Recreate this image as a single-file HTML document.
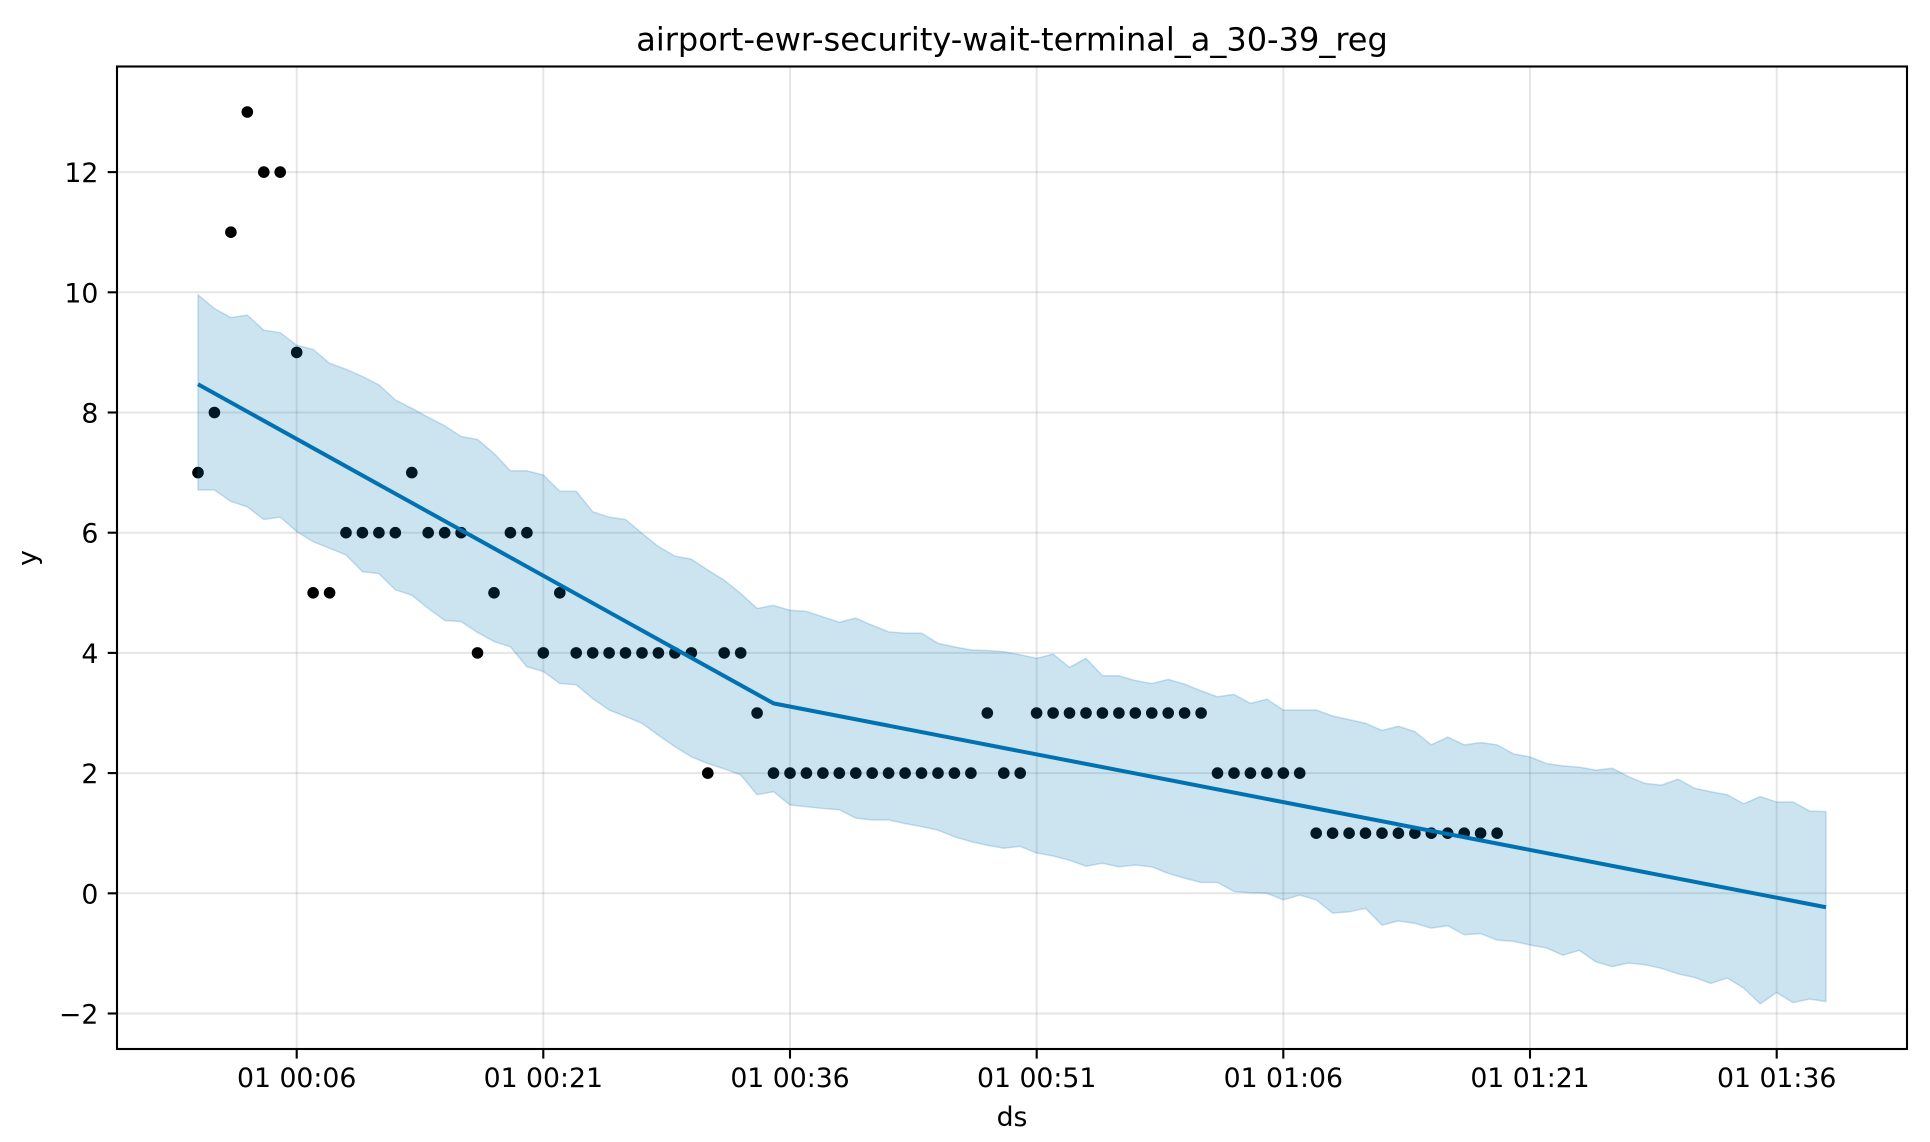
<!DOCTYPE html>
<html>
<head>
<meta charset="utf-8">
<style>
  html, body { margin: 0; padding: 0; background: #ffffff; }
  svg { display: block; }
  text { font-family: "DejaVu Sans", "Liberation Sans", sans-serif; fill: #000000; }
</style>
</head>
<body>
<svg width="1930" height="1142" viewBox="0 0 1930 1142" xmlns="http://www.w3.org/2000/svg">
  <rect x="0" y="0" width="1930" height="1142" fill="#ffffff"/>
  <g stroke="#808080" stroke-opacity="0.2" stroke-width="2">
    <line x1="296.7" y1="66.5" x2="296.7" y2="1049"/>
    <line x1="543.3" y1="66.5" x2="543.3" y2="1049"/>
    <line x1="790" y1="66.5" x2="790" y2="1049"/>
    <line x1="1036.7" y1="66.5" x2="1036.7" y2="1049"/>
    <line x1="1283.3" y1="66.5" x2="1283.3" y2="1049"/>
    <line x1="1530" y1="66.5" x2="1530" y2="1049"/>
    <line x1="1776.7" y1="66.5" x2="1776.7" y2="1049"/>
    <line x1="117" y1="1013.5" x2="1907" y2="1013.5"/>
    <line x1="117" y1="893.3" x2="1907" y2="893.3"/>
    <line x1="117" y1="773.1" x2="1907" y2="773.1"/>
    <line x1="117" y1="652.9" x2="1907" y2="652.9"/>
    <line x1="117" y1="532.7" x2="1907" y2="532.7"/>
    <line x1="117" y1="412.5" x2="1907" y2="412.5"/>
    <line x1="117" y1="292.3" x2="1907" y2="292.3"/>
    <line x1="117" y1="172.1" x2="1907" y2="172.1"/>
  </g>
  <g fill="#000000">
    <circle cx="198.0" cy="472.6" r="5.8"/>
    <circle cx="214.4" cy="412.5" r="5.8"/>
    <circle cx="230.9" cy="232.2" r="5.8"/>
    <circle cx="247.3" cy="112.0" r="5.8"/>
    <circle cx="263.8" cy="172.1" r="5.8"/>
    <circle cx="280.2" cy="172.1" r="5.8"/>
    <circle cx="296.7" cy="352.4" r="5.8"/>
    <circle cx="313.1" cy="592.8" r="5.8"/>
    <circle cx="329.6" cy="592.8" r="5.8"/>
    <circle cx="346.0" cy="532.7" r="5.8"/>
    <circle cx="362.4" cy="532.7" r="5.8"/>
    <circle cx="378.9" cy="532.7" r="5.8"/>
    <circle cx="395.3" cy="532.7" r="5.8"/>
    <circle cx="411.8" cy="472.6" r="5.8"/>
    <circle cx="428.2" cy="532.7" r="5.8"/>
    <circle cx="444.7" cy="532.7" r="5.8"/>
    <circle cx="461.1" cy="532.7" r="5.8"/>
    <circle cx="477.5" cy="652.9" r="5.8"/>
    <circle cx="494.0" cy="592.8" r="5.8"/>
    <circle cx="510.4" cy="532.7" r="5.8"/>
    <circle cx="526.9" cy="532.7" r="5.8"/>
    <circle cx="543.3" cy="652.9" r="5.8"/>
    <circle cx="559.8" cy="592.8" r="5.8"/>
    <circle cx="576.2" cy="652.9" r="5.8"/>
    <circle cx="592.7" cy="652.9" r="5.8"/>
    <circle cx="609.1" cy="652.9" r="5.8"/>
    <circle cx="625.5" cy="652.9" r="5.8"/>
    <circle cx="642.0" cy="652.9" r="5.8"/>
    <circle cx="658.4" cy="652.9" r="5.8"/>
    <circle cx="674.9" cy="652.9" r="5.8"/>
    <circle cx="691.3" cy="652.9" r="5.8"/>
    <circle cx="707.8" cy="773.1" r="5.8"/>
    <circle cx="724.2" cy="652.9" r="5.8"/>
    <circle cx="740.7" cy="652.9" r="5.8"/>
    <circle cx="757.1" cy="713.0" r="5.8"/>
    <circle cx="773.5" cy="773.1" r="5.8"/>
    <circle cx="790.0" cy="773.1" r="5.8"/>
    <circle cx="806.4" cy="773.1" r="5.8"/>
    <circle cx="822.9" cy="773.1" r="5.8"/>
    <circle cx="839.3" cy="773.1" r="5.8"/>
    <circle cx="855.8" cy="773.1" r="5.8"/>
    <circle cx="872.2" cy="773.1" r="5.8"/>
    <circle cx="888.6" cy="773.1" r="5.8"/>
    <circle cx="905.1" cy="773.1" r="5.8"/>
    <circle cx="921.5" cy="773.1" r="5.8"/>
    <circle cx="938.0" cy="773.1" r="5.8"/>
    <circle cx="954.4" cy="773.1" r="5.8"/>
    <circle cx="970.9" cy="773.1" r="5.8"/>
    <circle cx="987.3" cy="713.0" r="5.8"/>
    <circle cx="1003.8" cy="773.1" r="5.8"/>
    <circle cx="1020.2" cy="773.1" r="5.8"/>
    <circle cx="1036.6" cy="713.0" r="5.8"/>
    <circle cx="1053.1" cy="713.0" r="5.8"/>
    <circle cx="1069.5" cy="713.0" r="5.8"/>
    <circle cx="1086.0" cy="713.0" r="5.8"/>
    <circle cx="1102.4" cy="713.0" r="5.8"/>
    <circle cx="1118.9" cy="713.0" r="5.8"/>
    <circle cx="1135.3" cy="713.0" r="5.8"/>
    <circle cx="1151.8" cy="713.0" r="5.8"/>
    <circle cx="1168.2" cy="713.0" r="5.8"/>
    <circle cx="1184.6" cy="713.0" r="5.8"/>
    <circle cx="1201.1" cy="713.0" r="5.8"/>
    <circle cx="1217.5" cy="773.1" r="5.8"/>
    <circle cx="1234.0" cy="773.1" r="5.8"/>
    <circle cx="1250.4" cy="773.1" r="5.8"/>
    <circle cx="1266.9" cy="773.1" r="5.8"/>
    <circle cx="1283.3" cy="773.1" r="5.8"/>
    <circle cx="1299.7" cy="773.1" r="5.8"/>
    <circle cx="1316.2" cy="833.2" r="5.8"/>
    <circle cx="1332.6" cy="833.2" r="5.8"/>
    <circle cx="1349.1" cy="833.2" r="5.8"/>
    <circle cx="1365.5" cy="833.2" r="5.8"/>
    <circle cx="1382.0" cy="833.2" r="5.8"/>
    <circle cx="1398.4" cy="833.2" r="5.8"/>
    <circle cx="1414.9" cy="833.2" r="5.8"/>
    <circle cx="1431.3" cy="833.2" r="5.8"/>
    <circle cx="1447.7" cy="833.2" r="5.8"/>
    <circle cx="1464.2" cy="833.2" r="5.8"/>
    <circle cx="1480.6" cy="833.2" r="5.8"/>
    <circle cx="1497.1" cy="833.2" r="5.8"/>
  </g>
  <g transform="translate(198 893.3) scale(16.444 -60.1)">
    <path d="M0 8.47 L35 3.16 L99 -0.232" fill="none" stroke="#0072B2" stroke-width="4" vector-effect="non-scaling-stroke" stroke-linejoin="round"/>
    <path fill="#0072B2" fill-opacity="0.2" stroke="#0072B2" stroke-opacity="0.2" stroke-width="1.5" vector-effect="non-scaling-stroke" stroke-linejoin="round"
      d="M0 9.96 L1 9.73 L2 9.58 L3 9.62 L4 9.37 L5 9.33 L6 9.12 L7 9.05 L8 8.82 L9 8.72 L10 8.60 L11 8.46 L12 8.21 L13 8.07 L14 7.92 L15 7.78 L16 7.60 L17 7.55 L18 7.32 L19 7.03 L20 7.03 L21 6.96 L22 6.69 L23 6.69 L24 6.35 L25 6.26 L26 6.22 L27 5.99 L28 5.77 L29 5.61 L30 5.56 L31 5.38 L32 5.21 L33 4.99 L34 4.74 L35 4.79 L36 4.71 L37 4.69 L38 4.60 L39 4.51 L40 4.58 L41 4.46 L42 4.35 L43 4.33 L44 4.33 L45 4.16 L46 4.10 L47 4.05 L48 4.04 L49 4.02 L50 3.97 L51 3.91 L52 3.98 L53 3.76 L54 3.91 L55 3.62 L56 3.62 L57 3.54 L58 3.49 L59 3.56 L60 3.48 L61 3.37 L62 3.27 L63 3.31 L64 3.16 L65 3.23 L66 3.05 L67 3.05 L68 3.05 L69 2.95 L70 2.89 L71 2.83 L72 2.71 L73 2.78 L74 2.69 L75 2.47 L76 2.60 L77 2.47 L78 2.51 L79 2.47 L80 2.32 L81 2.27 L82 2.16 L83 2.12 L84 2.10 L85 2.05 L86 2.08 L87 1.94 L88 1.83 L89 1.80 L90 1.90 L91 1.75 L92 1.69 L93 1.64 L94 1.49 L95 1.61 L96 1.52 L97 1.52 L98 1.37 L99 1.36 L99 -1.80 L98 -1.76 L97 -1.82 L96 -1.65 L95 -1.84 L94 -1.58 L93 -1.41 L92 -1.50 L91 -1.40 L90 -1.34 L89 -1.25 L88 -1.19 L87 -1.16 L86 -1.22 L85 -1.14 L84 -0.95 L83 -1.03 L82 -0.91 L81 -0.86 L80 -0.80 L79 -0.78 L78 -0.67 L77 -0.69 L76 -0.54 L75 -0.58 L74 -0.50 L73 -0.46 L72 -0.53 L71 -0.25 L70 -0.31 L69 -0.33 L68 -0.11 L67 -0.03 L66 -0.11 L65 0.00 L64 0.01 L63 0.03 L62 0.18 L61 0.18 L60 0.25 L59 0.33 L58 0.44 L57 0.47 L56 0.44 L55 0.50 L54 0.45 L53 0.55 L52 0.62 L51 0.67 L50 0.78 L49 0.75 L48 0.80 L47 0.86 L46 0.94 L45 1.05 L44 1.11 L43 1.16 L42 1.22 L41 1.22 L40 1.25 L39 1.39 L38 1.41 L37 1.44 L36 1.47 L35 1.69 L34 1.64 L33 1.97 L32 2.07 L31 2.16 L30 2.27 L29 2.44 L28 2.63 L27 2.83 L26 2.94 L25 3.05 L24 3.24 L23 3.47 L22 3.49 L21 3.69 L20 3.77 L19 4.10 L18 4.19 L17 4.34 L16 4.52 L15 4.54 L14 4.74 L13 4.96 L12 5.05 L11 5.32 L10 5.35 L9 5.63 L8 5.74 L7 5.85 L6 6.02 L5 6.26 L4 6.22 L3 6.43 L2 6.52 L1 6.71 L0 6.71 Z"/>
  </g>
  <rect x="117" y="66.5" width="1790" height="982.5" fill="none" stroke="#000000" stroke-width="2.1"/>
  <g stroke="#000000" stroke-width="2.1">
    <line x1="296.7" y1="1049" x2="296.7" y2="1058.6"/>
    <line x1="543.3" y1="1049" x2="543.3" y2="1058.6"/>
    <line x1="790" y1="1049" x2="790" y2="1058.6"/>
    <line x1="1036.7" y1="1049" x2="1036.7" y2="1058.6"/>
    <line x1="1283.3" y1="1049" x2="1283.3" y2="1058.6"/>
    <line x1="1530" y1="1049" x2="1530" y2="1058.6"/>
    <line x1="1776.7" y1="1049" x2="1776.7" y2="1058.6"/>
    <line x1="107.7" y1="1013.5" x2="117" y2="1013.5"/>
    <line x1="107.7" y1="893.3" x2="117" y2="893.3"/>
    <line x1="107.7" y1="773.1" x2="117" y2="773.1"/>
    <line x1="107.7" y1="652.9" x2="117" y2="652.9"/>
    <line x1="107.7" y1="532.7" x2="117" y2="532.7"/>
    <line x1="107.7" y1="412.5" x2="117" y2="412.5"/>
    <line x1="107.7" y1="292.3" x2="117" y2="292.3"/>
    <line x1="107.7" y1="172.1" x2="117" y2="172.1"/>
  </g>
  <g font-size="26.7" text-anchor="end">
    <text x="98.4" y="1023.5">−2</text>
    <text x="98.4" y="903.3">0</text>
    <text x="98.4" y="783.1">2</text>
    <text x="98.4" y="662.9">4</text>
    <text x="98.4" y="542.7">6</text>
    <text x="98.4" y="422.5">8</text>
    <text x="98.4" y="302.3">10</text>
    <text x="98.4" y="182.1">12</text>
  </g>
  <g font-size="26.7" text-anchor="middle">
    <text x="296.7" y="1087">01 00:06</text>
    <text x="543.3" y="1087">01 00:21</text>
    <text x="790" y="1087">01 00:36</text>
    <text x="1036.7" y="1087">01 00:51</text>
    <text x="1283.3" y="1087">01 01:06</text>
    <text x="1530" y="1087">01 01:21</text>
    <text x="1776.7" y="1087">01 01:36</text>
  </g>
  <text x="1012" y="1126" font-size="26.7" text-anchor="middle">ds</text>
  <text x="36.3" y="558" font-size="26.7" text-anchor="middle" transform="rotate(-90 36.3 558)">y</text>
  <text x="1012" y="50.5" font-size="32" text-anchor="middle">airport-ewr-security-wait-terminal_a_30-39_reg</text>
</svg>
</body>
</html>
